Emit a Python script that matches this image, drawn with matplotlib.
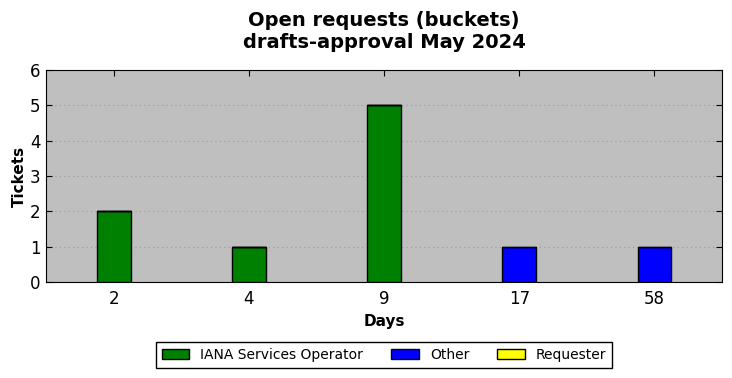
import numpy as np
import matplotlib
matplotlib.use('Agg')
import matplotlib.pyplot as plt

days = ['2', '4', '9', '17', '58']
iana = [2, 1, 5, 0, 0]
other = [0, 0, 0, 1, 1]
requester = [0, 0, 0, 0, 0]

fig = plt.figure(figsize=(7.32, 3.78), dpi=100)
ax = fig.add_axes([46 / 732, 1 - 282 / 378, 676 / 732, 212 / 378])
ax.set_facecolor('#bfbfbf')

x = np.arange(len(days))
w = 0.25
iana = np.array(iana)
other = np.array(other)
requester = np.array(requester)
ax.bar(x, iana, w, color='green', edgecolor='black', label='IANA Services Operator', zorder=3)
ax.bar(x, other, w, bottom=iana, color='blue', edgecolor='black', label='Other', zorder=3)
ax.bar(x, requester, w, bottom=iana + other, color='yellow', edgecolor='black', label='Requester', zorder=3)

ax.set_xlim(-0.5, len(days) - 0.5)
ax.set_ylim(0, 6)
ax.set_xticks(x)
ax.set_xticklabels(days)
ax.set_yticks(range(0, 7))
ax.tick_params(direction='in', top=True, right=True, labelsize=12, length=4)
ax.tick_params(axis='x', pad=6)
ax.tick_params(axis='y', pad=4)
ax.yaxis.grid(True, linestyle=(0, (1, 3)), color='#999999', linewidth=0.8, zorder=0)
ax.set_axisbelow(True)

ax.set_xlabel('Days', fontweight='bold', fontsize=11)
ax.set_ylabel('Tickets', fontweight='bold', fontsize=11, labelpad=2)
fig.suptitle('Open requests (buckets)\ndrafts-approval May 2024', fontweight='bold', fontsize=14,
             x=384 / 732, y=0.972)

leg = fig.legend(loc='center', bbox_to_anchor=(384 / 732, 1 - 355 / 378), ncol=3, fontsize=10,
                 fancybox=False, edgecolor='black', framealpha=1, handlelength=2, columnspacing=2)
leg.get_frame().set_linewidth(1)

fig.savefig('out.png', dpi=100)
